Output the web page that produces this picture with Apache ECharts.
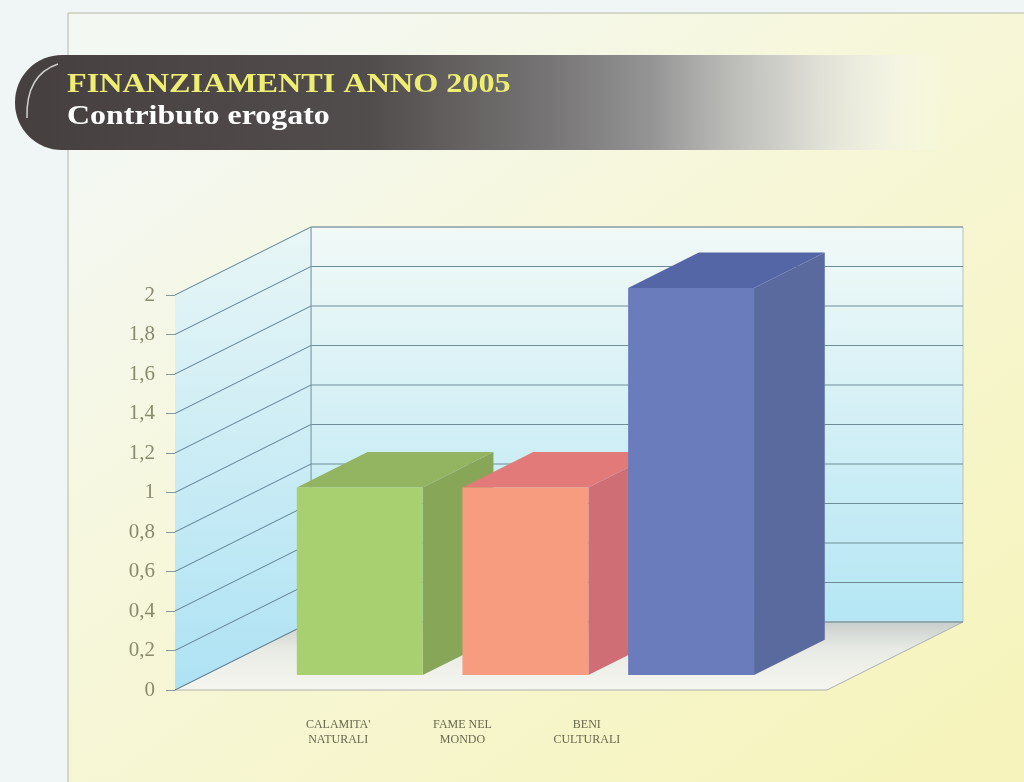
<!DOCTYPE html>
<html>
<head>
<meta charset="utf-8">
<script src="https://cdn.jsdelivr.net/npm/echarts@6/dist/echarts.min.js"></script>
<style>
html, body { margin: 0; padding: 0; background: #f0f6f5; }
#main { width: 1024px; height: 782px; }
</style>
</head>
<body>
<div id="main"></div>
<script>
var categories = ["CALAMITA'\nNATURALI", 'FAME NEL\nMONDO', 'BENI\nCULTURALI'];
var values = [0.95, 0.95, 1.96];
var tickValues = [0, 0.2, 0.4, 0.6, 0.8, 1, 1.2, 1.4, 1.6, 1.8, 2];

// colours of the three boxes: front, right side, top
var barColors = [
    {front: '#a8d070', side: '#88a658', top: '#93b460'},
    {front: '#f89c80', side: '#d06e76', top: '#e27a7a'},
    {front: '#6a7cbc', side: '#5a6a9e', top: '#5466a6'}
];

// fake 3d: how far the back wall sits behind the front plane
var DEPTH = [136, -68];
var BAR_NEAR = 0.22, BAR_FAR = 0.74;
var WALL_PAD_L = 72, WALL_PAD_R = 83;

function renderWalls(params, api){
    var cs = params.coordSys;
    var x0 = cs.x - WALL_PAD_L, x1 = cs.x + cs.width + WALL_PAD_R;
    var dx = DEPTH[0], dy = DEPTH[1];
    var yBot = api.coord([0, 0])[1], yTop = api.coord([0, 2])[1];
    var children = [];

    children.push({
        type: 'rect',
        shape: {x: x0 + dx, y: yTop + dy, width: x1 - x0, height: yBot - yTop},
        style: {
            fill: new echarts.graphic.LinearGradient(0, 0, 0, 1, [
                {offset: 0, color: '#f1f9f7'},
                {offset: 1, color: '#b4e6f4'}
            ]),
            stroke: '#b8c2c0', lineWidth: 1
        }
    });
    children.push({
        type: 'polygon',
        shape: {points: [[x0, yTop], [x0 + dx, yTop + dy], [x0 + dx, yBot + dy], [x0, yBot]]},
        style: {
            fill: new echarts.graphic.LinearGradient(0, 0, 0, 1, [
                {offset: 0, color: '#e8f6f6'},
                {offset: 1, color: '#ade2f4'}
            ])
        }
    });
    children.push({
        type: 'polygon',
        shape: {points: [[x0, yBot], [x1, yBot], [x1 + dx, yBot + dy], [x0 + dx, yBot + dy]]},
        style: {
            fill: new echarts.graphic.LinearGradient(0, 1, 0, 0, [
                {offset: 0, color: '#f5f6ef'},
                {offset: 0.6, color: '#e8ebe5'},
                {offset: 1, color: '#c8cecc'}
            ]),
            stroke: '#aab2ac', lineWidth: 1
        }
    });

    tickValues.forEach(function(v){
        var y = api.coord([0, v])[1];
        children.push({
            type: 'line',
            shape: {x1: x0, y1: y, x2: x0 + dx, y2: y + dy},
            style: {stroke: '#5e7f94', lineWidth: 1}
        });
        children.push({
            type: 'line',
            shape: {x1: x0 + dx, y1: y + dy, x2: x1 + dx, y2: y + dy},
            style: {stroke: '#6f8d96', lineWidth: 1}
        });
    });
    children.push({
        type: 'line',
        shape: {x1: x0 + dx, y1: yTop + dy, x2: x0 + dx, y2: yBot + dy},
        style: {stroke: '#7e98a4', lineWidth: 1}
    });

    return {type: 'group', children: children};
}

function renderBar(params, api){
    var i = api.value(0), v = api.value(1);
    var base = api.coord([i, 0]), top = api.coord([i, v]);
    var w = api.size([1, 0])[0] * 0.76;
    var nx = DEPTH[0] * BAR_NEAR, ny = DEPTH[1] * BAR_NEAR;
    var bx = DEPTH[0] * (BAR_FAR - BAR_NEAR), by = DEPTH[1] * (BAR_FAR - BAR_NEAR);
    var l = base[0] - w / 2 + nx, r = base[0] + w / 2 + nx;
    var yb = base[1] + ny, yt = top[1] + ny;
    var c = barColors[params.dataIndex];

    return {
        type: 'group',
        children: [
            {type: 'polygon', shape: {points: [[r, yb], [r + bx, yb + by], [r + bx, yt + by], [r, yt]]}, style: {fill: c.side}},
            {type: 'polygon', shape: {points: [[l, yt], [l + bx, yt + by], [r + bx, yt + by], [r, yt]]}, style: {fill: c.top}},
            {type: 'rect', shape: {x: l, y: yt, width: r - l, height: yb - yt}, style: {fill: c.front}}
        ]
    };
}

var barData = values.map(function(v, i){ return [i, v]; });

var option = {
    animation: false,
    graphic: [
        {
            type: 'rect', z: -100,
            shape: {x: 68, y: 13, width: 1000, height: 800},
            style: {
                fill: new echarts.graphic.LinearGradient(0.2, 0, 0.8, 1, [
                    {offset: 0, color: '#f3f8f3'},
                    {offset: 0.35, color: '#f6f7dc'},
                    {offset: 1, color: '#f6f4bc'}
                ]),
                stroke: '#b6b8a6', lineWidth: 1
            }
        },
        {
            type: 'rect',
            shape: {x: 15, y: 55, width: 935, height: 95, r: [47, 0, 0, 47]},
            style: {
                fill: new echarts.graphic.LinearGradient(0, 0, 1, 0, [
                    {offset: 0, color: '#463f40'},
                    {offset: 0.38, color: '#524d4d'},
                    {offset: 0.57, color: '#767474'},
                    {offset: 0.68, color: '#949494'},
                    {offset: 0.82, color: 'rgba(198,198,198,0.8)'},
                    {offset: 0.94, color: 'rgba(240,240,240,0.4)'},
                    {offset: 1, color: 'rgba(255,255,255,0)'}
                ])
            }
        },
        {
            type: 'bezierCurve',
            shape: {x1: 27, y1: 118, cpx1: 26, cpy1: 84, x2: 58, y2: 64, cpx2: 40, cpy2: 70},
            style: {stroke: 'rgba(255,255,255,0.75)', lineWidth: 1.5, fill: null}
        },
        {
            type: 'text', x: 67, y: 85, scaleX: 1.15,
            style: {
                text: 'FINANZIAMENTI ANNO 2005',
                font: 'bold 28px "Liberation Serif"',
                fill: '#eeee72',
                verticalAlign: 'middle'
            }
        },
        {
            type: 'text', x: 67, y: 117, scaleX: 1.14,
            style: {
                text: 'Contributo erogato',
                font: 'bold 28px "Liberation Serif"',
                fill: '#ffffff',
                verticalAlign: 'middle'
            }
        }
    ],
    grid: [
        {left: 247, top: 295, width: 497, height: 395},
        {left: 276, top: 600, width: 373, height: 90}
    ],
    xAxis: [
        {type: 'category', gridIndex: 0, data: categories, show: false},
        {
            type: 'category', gridIndex: 1, data: categories,
            axisLine: {show: false},
            axisTick: {show: false},
            axisLabel: {
                interval: 0,
                margin: 27,
                fontFamily: 'Liberation Serif',
                fontSize: 12,
                lineHeight: 15,
                color: '#68684f'
            }
        }
    ],
    yAxis: [
        {
            type: 'value', gridIndex: 0,
            min: 0, max: 2, interval: 0.2,
            offset: 72,
            axisLine: {show: true, lineStyle: {color: '#c4d2d6'}},
            axisTick: {show: true, length: 9, lineStyle: {color: '#8a9a9a'}},
            splitLine: {show: false},
            axisLabel: {
                margin: 20,
                fontFamily: 'Liberation Serif',
                fontSize: 21,
                color: '#8a8a6c',
                formatter: function(v){ return String(+v.toFixed(1)).replace('.', ','); }
            }
        },
        {type: 'value', gridIndex: 1, show: false}
    ],
    series: [
        {
            type: 'custom',
            xAxisIndex: 0, yAxisIndex: 0,
            renderItem: renderWalls,
            data: [[0, 0]],
            z: 1,
            silent: true
        },
        {
            type: 'custom',
            xAxisIndex: 0, yAxisIndex: 0,
            renderItem: renderBar,
            encode: {x: 0, y: 1},
            data: barData,
            z: 3
        }
    ]
};

var chart = echarts.init(document.getElementById('main'));
chart.setOption(option);
</script>
</body>
</html>
